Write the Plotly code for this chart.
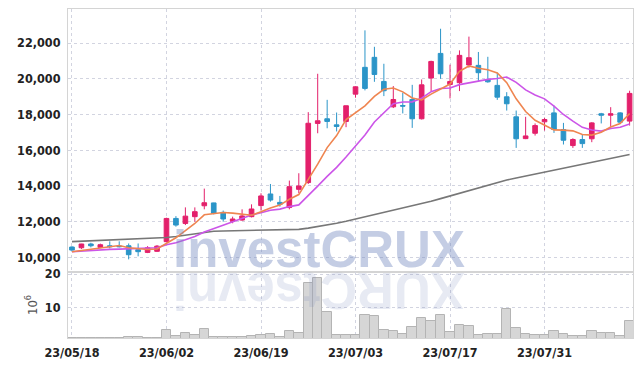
import plotly.graph_objects as go
from plotly.subplots import make_subplots

dates = ["23/05/18","23/05/19","23/05/22","23/05/23","23/05/24","23/05/25","23/05/26","23/05/30","23/05/31",
         "23/06/01","23/06/02","23/06/05","23/06/07","23/06/08","23/06/09","23/06/12","23/06/13","23/06/14",
         "23/06/15","23/06/16","23/06/19","23/06/20","23/06/21","23/06/22","23/06/23","23/06/26","23/06/27",
         "23/06/28","23/06/29","23/06/30","23/07/03","23/07/04","23/07/05","23/07/06","23/07/07","23/07/10",
         "23/07/11","23/07/12","23/07/13","23/07/14","23/07/17","23/07/18","23/07/19","23/07/20","23/07/21",
         "23/07/24","23/07/25","23/07/26","23/07/27","23/07/28","23/07/31","23/08/01","23/08/02","23/08/03",
         "23/08/04","23/08/07","23/08/08","23/08/09","23/08/10","23/08/11"]

opens = [10580,10540,10750,10560,10650,10640,10650,10430,10280,10340,
         10880,12180,11900,12280,12890,13050,12520,12020,12090,12280,
         12900,13550,13080,12790,13810,14190,17500,17760,17420,17610,
         19140,20640,21200,19850,18430,18500,18840,17760,20040,21420,
         19680,19780,20770,20750,19960,19630,18990,17870,16650,16950,
         17590,18090,17160,16260,16600,16640,18040,17960,18090,17630]
highs = [10620,10760,10820,10770,10900,10900,10780,10780,10630,10690,
         12220,12310,12800,12800,13850,13060,12620,12280,12690,12970,
         13590,14110,13440,14300,14710,18130,20280,18820,18110,18490,
         19580,22710,21790,20840,19590,19220,19660,19960,21010,22800,
         20790,21590,22360,21500,21230,20340,19250,18220,17870,17500,
         17810,18500,17530,16670,16880,17570,18090,18410,18130,19330]
lows = [10370,10470,10560,10520,10500,10560,9890,10060,10240,10300,
        10840,11720,11810,12000,12690,12410,12000,11910,12050,12240,
        12620,13120,12840,12690,13590,14110,16950,17230,17050,17290,
        18940,19350,19830,19030,18360,18060,17250,17720,19310,20000,
        18900,19310,20620,19870,19780,18820,18220,16130,16620,16820,
        17100,16970,16320,16130,16130,16450,17500,17310,17550,17380]
closes = [10410,10750,10650,10710,10600,10600,10150,10320,10540,10630,
          12180,11810,12310,12560,13060,12470,12150,12150,12320,12710,
          13440,13210,12970,13960,14000,17510,17650,17610,17330,18490,
          19550,19460,20240,19330,18840,18470,17760,19660,20970,20280,
          19850,21310,21180,20340,19830,18970,18600,16640,16800,17380,
          17720,17160,16560,16600,16370,17530,17960,18040,17570,19180]

ma5 = [10320,10390,10480,10560,10624,10662,10542,10476,10442,10472,
       10764,11096,11494,11898,12384,12442,12510,12478,12430,12360,
       12554,12766,12930,13258,13516,14330,15218,16146,16820,17718,
       18126,18488,19014,19414,19484,19268,18928,18812,19140,19428,
       19704,20414,20718,20592,20502,20326,19784,18876,18168,17678,
       17428,17140,17124,17084,16882,16844,17004,17300,17494,18056]
ma10 = [10320,10360,10400,10430,10450,10460,10470,10475,10490,10536,
        10713,10819,10985,11170,11416,11603,11803,11986,12164,12372,
        12498,12638,12704,12844,12938,13442,13992,14538,15039,15617,
        16228,16853,17580,18117,18601,18697,18708,18913,19277,19456,
        19486,19671,19765,19866,19965,20015,20099,19797,19380,19090,
        18877,18462,18000,17626,17280,17136,17072,17212,17289,17469]
ma60 = [10880,10900,10920,10940,10960,10980,11000,11020,11040,11070,
        11110,11170,11250,11340,11420,11460,11480,11490,11500,11510,
        11520,11530,11540,11550,11570,11640,11720,11810,11910,12020,
        12140,12270,12400,12530,12660,12780,12890,13000,13140,13290,
        13440,13590,13740,13890,14040,14190,14330,14440,14550,14660,
        14770,14880,14990,15100,15210,15320,15430,15540,15650,15760]

volumes = [0.85,0.85,0.85,0.85,0.85,0.85,1.1,1.1,0.9,0.9,
           3.1,1.35,2.45,1.65,3.4,1.25,1.25,1.05,1.05,1.5,
           1.85,2.15,1.05,2.85,2.25,17.2,18.7,8.6,1.85,1.65,
           1.85,7.8,7.45,3.1,2.85,2.15,4.1,6.85,5.95,7.8,
           2.5,4.6,4.4,1.85,2.15,2.15,9.5,3.7,2.15,1.65,
           1.85,2.8,2.15,1.55,1.55,2.8,2.45,2.45,1.55,5.85]

tick_dates = ["23/05/18","23/06/02","23/06/19","23/07/03","23/07/17","23/07/31"]
price_ticks = [10000,12000,14000,16000,18000,20000,22000]
vol_ticks = [10, 20]

UP = "#e3206b"
DOWN = "#2b95c8"
GRID = "#d2d4e0"
FRAME = "#d4d4d4"
FONT = "DejaVu Sans Condensed, Liberation Sans Narrow, sans-serif"

fig = make_subplots(rows=2, cols=1, shared_xaxes=True, vertical_spacing=0,
                    row_heights=[0.7994, 0.2006])

fig.add_trace(go.Candlestick(
    x=dates, open=opens, high=highs, low=lows, close=closes,
    increasing=dict(line=dict(color=UP, width=1), fillcolor=UP),
    decreasing=dict(line=dict(color=DOWN, width=1), fillcolor=DOWN),
    whiskerwidth=0, showlegend=False), row=1, col=1)

fig.add_trace(go.Scatter(x=dates, y=ma60, mode="lines",
                         line=dict(color="#777777", width=1.6), showlegend=False), row=1, col=1)
fig.add_trace(go.Scatter(x=dates, y=ma10, mode="lines",
                         line=dict(color="#cc55e8", width=1.6), showlegend=False), row=1, col=1)
fig.add_trace(go.Scatter(x=dates, y=ma5, mode="lines",
                         line=dict(color="#ef8550", width=1.6), showlegend=False), row=1, col=1)

fig.add_trace(go.Bar(x=dates, y=volumes, marker=dict(color="#d6d6d6", line=dict(color="#b4b4b4", width=1)),
                     showlegend=False), row=2, col=1)

axis_common = dict(showline=True, mirror=True, linecolor=FRAME, linewidth=1,
                   showgrid=True, gridcolor=GRID, griddash="dot", gridwidth=1,
                   zeroline=False, ticks="", automargin=False)
tickfont = dict(family=FONT, size=12.5, color="#222222", weight="bold")

fig.update_xaxes(type="category", range=[-0.42, 59.36], tickvals=tick_dates, ticktext=tick_dates,
                 rangeslider_visible=False, tickfont=tickfont, ticklabelstandoff=3, **axis_common)
fig.update_xaxes(showticklabels=False, row=1, col=1)
fig.update_yaxes(range=[9182, 23906], tickvals=price_ticks, tickformat=",",
                 tickfont=tickfont, ticklabelstandoff=4, row=1, col=1, **axis_common)
fig.update_yaxes(range=[0.83, 20.61], tickvals=vol_ticks, tickfont=tickfont, ticklabelstandoff=4,
                 title=dict(text="10<sup>6</sup>", font=dict(family=FONT, size=13, color="#555555"), standoff=4),
                 row=2, col=1, **axis_common)

fig.add_annotation(text="investCRUX", xref="paper", yref="paper", x=0.444, y=0.268,
                   xanchor="center", yanchor="middle", showarrow=False,
                   font=dict(family="Liberation Sans, Arial, sans-serif", size=51, weight="bold",
                             color="rgba(115,135,190,0.42)"))
fig.add_annotation(text="XURCtsevni", xref="paper", yref="paper", x=0.444, y=0.145,
                   xanchor="center", yanchor="middle", showarrow=False, textangle=180,
                   font=dict(family="Liberation Sans, Arial, sans-serif", size=51, weight="bold",
                             color="rgba(120,140,190,0.18)"))

fig.update_layout(width=642, height=366, margin=dict(l=68, r=9, t=9, b=28),
                  paper_bgcolor="white", plot_bgcolor="white", bargap=0,
                  showlegend=False, hovermode=False)

fig.write_html("out.html", config={"displayModeBar": False},
               post_script="document.body.style.margin='0';")
